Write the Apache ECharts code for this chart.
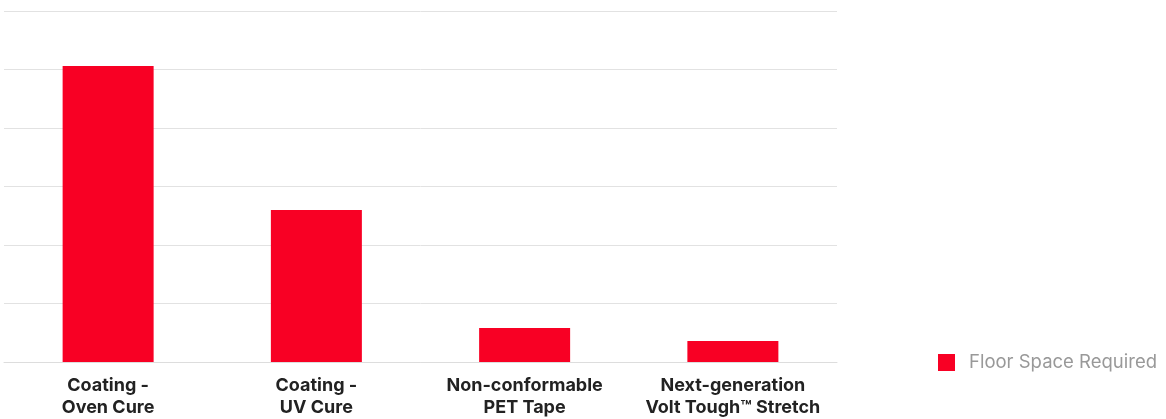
<!DOCTYPE html>
<html>
<head>
<meta charset="utf-8">
<script src="https://cdn.jsdelivr.net/npm/echarts@6/dist/echarts.min.js"></script>
<style>
  html, body { margin: 0; padding: 0; background: #fff; }
  #chart { width: 1166px; height: 419px; }
</style>
</head>
<body>
<div id="chart"></div>
<script>
const categories = [
  'Coating -\nOven Cure',
  'Coating -\nUV Cure',
  'Non-conformable\nPET Tape',
  'Next-generation\nVolt Tough™ Stretch'
]
const floorSpace = [5.06, 2.6, 0.58, 0.36]
const seriesName = 'Floor Space Required'

const chart = echarts.init(document.getElementById('chart'))

chart.setOption({
  animation: false,
  textStyle: { fontFamily: 'Inter, "Noto Sans", sans-serif' },
  legend: {
    left: 933,
    top: 348,
    icon: 'rect',
    itemWidth: 17,
    itemHeight: 17,
    itemGap: 14,
    textStyle: { color: '#999', fontSize: 18.5, padding: [0, 0, 0, 9] },
    data: [seriesName]
  },
  grid: { left: 4, right: 329, top: 11, bottom: 56 },
  xAxis: {
    type: 'category',
    data: categories,
    axisLine: { show: true, lineStyle: { color: '#ddd' } },
    axisTick: { show: false },
    axisLabel: {
      color: '#222',
      fontSize: 18,
      fontWeight: 'bold',
      lineHeight: 22,
      margin: 13,
      interval: 0
    }
  },
  yAxis: {
    type: 'value',
    min: 0,
    max: 6,
    interval: 1,
    axisLabel: { show: false },
    axisLine: { show: false },
    axisTick: { show: false },
    splitLine: { lineStyle: { color: '#e2e2e2', width: 1 } }
  },
  series: [
    {
      name: seriesName,
      type: 'bar',
      barWidth: 91,
      data: floorSpace,
      itemStyle: { color: '#f80024' }
    }
  ]
})
</script>
</body>
</html>
